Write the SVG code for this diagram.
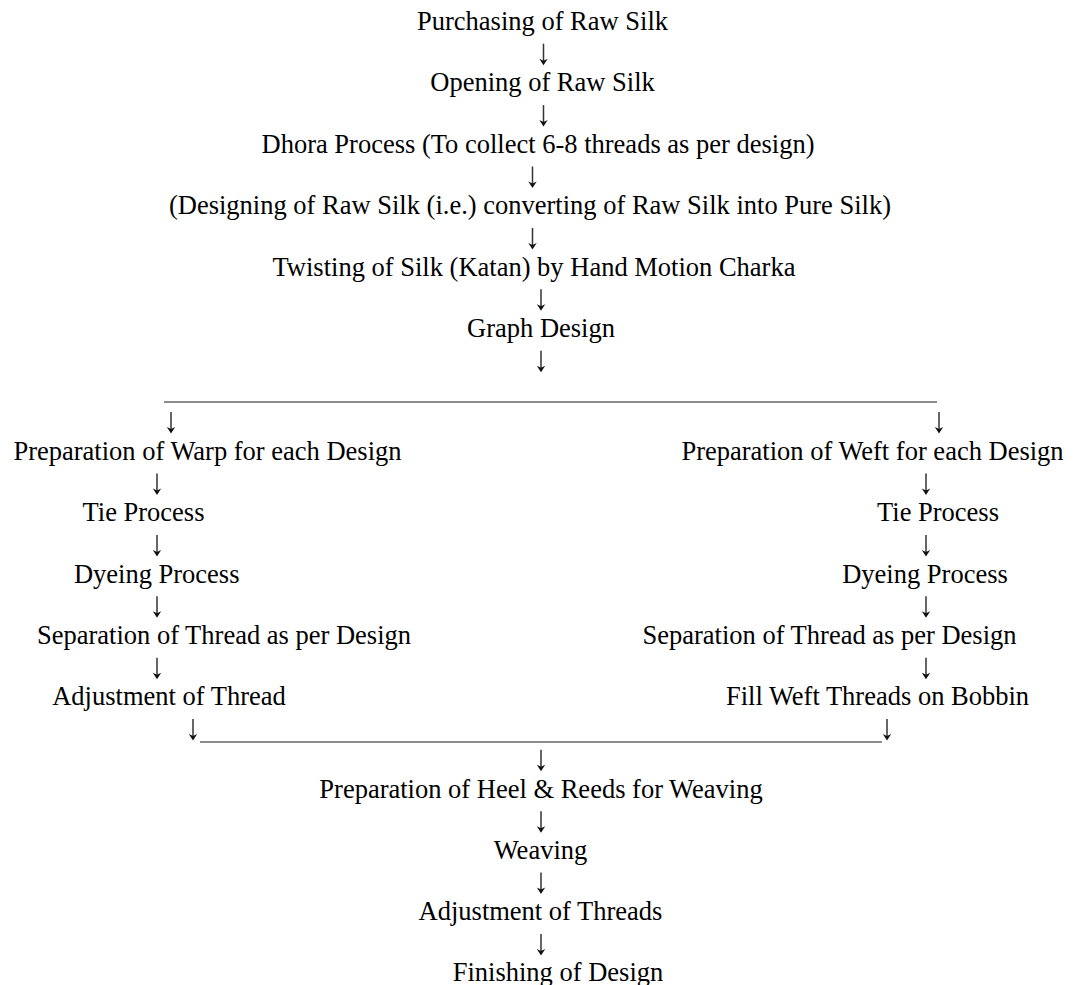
<svg xmlns="http://www.w3.org/2000/svg" width="1076" height="985" viewBox="0 0 1076 985">
<defs>
<style>
text{font-family:"Liberation Serif","Times New Roman",serif;font-size:26.5px;fill:#000;text-anchor:middle}
.shaft{stroke:#333;stroke-width:1.5;fill:none}
.head{fill:#111;stroke:none}
.rule{stroke:#1a1a1a;stroke-width:1.2}
</style>
<g id="arrow"><path class="shaft" d="M0,0 V19"/><path class="head" d="M-4.2,15 L0,21.5 L4.2,15 L0,17 Z"/></g>
</defs>
<rect width="1076" height="985" fill="#fff"/>
<g id="n1"><text x="542.5" y="30">Purchasing of Raw Silk</text></g>
<g id="n2"><text x="542.5" y="91.4">Opening of Raw Silk</text></g>
<g id="n3"><text x="538" y="152.8">Dhora Process (To collect 6-8 threads as per design)</text></g>
<g id="n4"><text x="530" y="214.2">(Designing of Raw Silk (i.e.) converting of Raw Silk into Pure Silk)</text></g>
<g id="n5"><text x="534" y="275.6">Twisting of Silk (Katan) by Hand Motion Charka</text></g>
<g id="n6"><text x="541" y="337">Graph Design</text></g>
<g id="n7"><text x="207.5" y="459.8">Preparation of Warp for each Design</text></g>
<g id="n8"><text x="143.5" y="521.2">Tie Process</text></g>
<g id="n9"><text x="156.7" y="582.6">Dyeing Process</text></g>
<g id="n10"><text x="224" y="644">Separation of Thread as per Design</text></g>
<g id="n11"><text x="169" y="705.4">Adjustment of Thread</text></g>
<g id="n12"><text x="872.5" y="459.8">Preparation of Weft for each Design</text></g>
<g id="n13"><text x="938" y="521.2">Tie Process</text></g>
<g id="n14"><text x="925" y="582.6">Dyeing Process</text></g>
<g id="n15"><text x="829.5" y="644">Separation of Thread as per Design</text></g>
<g id="n16"><text x="877.5" y="705.4">Fill Weft Threads on Bobbin</text></g>
<g id="n17"><text x="541" y="797.5">Preparation of Heel &amp; Reeds for Weaving</text></g>
<g id="n18"><text x="540.5" y="858.9">Weaving</text></g>
<g id="n19"><text x="540.5" y="920.3">Adjustment of Threads</text></g>
<g id="n20"><text x="558" y="980.5">Finishing of Design</text></g>
<g id="connectors">
<use href="#arrow" x="543.5" y="43.7"/>
<use href="#arrow" x="543.5" y="105.1"/>
<use href="#arrow" x="532.5" y="166.5"/>
<use href="#arrow" x="532.5" y="227.9"/>
<use href="#arrow" x="541" y="289.3"/>
<use href="#arrow" x="541" y="350.7"/>
<line class="rule" x1="164" y1="402" x2="937" y2="402"/>
<use href="#arrow" x="171" y="412.1"/>
<use href="#arrow" x="939" y="412.1"/>
<use href="#arrow" x="157" y="473.5"/>
<use href="#arrow" x="157" y="534.9"/>
<use href="#arrow" x="157" y="596.3"/>
<use href="#arrow" x="157" y="657.7"/>
<use href="#arrow" x="926" y="473.5"/>
<use href="#arrow" x="926" y="534.9"/>
<use href="#arrow" x="926" y="596.3"/>
<use href="#arrow" x="926" y="657.7"/>
<use href="#arrow" x="193" y="719.1"/>
<use href="#arrow" x="887" y="719.1"/>
<line class="rule" x1="200" y1="742" x2="882" y2="742"/>
<use href="#arrow" x="541" y="749.8"/>
<use href="#arrow" x="541" y="811.2"/>
<use href="#arrow" x="541" y="872.6"/>
<use href="#arrow" x="541" y="934"/>
</g>
</svg>
